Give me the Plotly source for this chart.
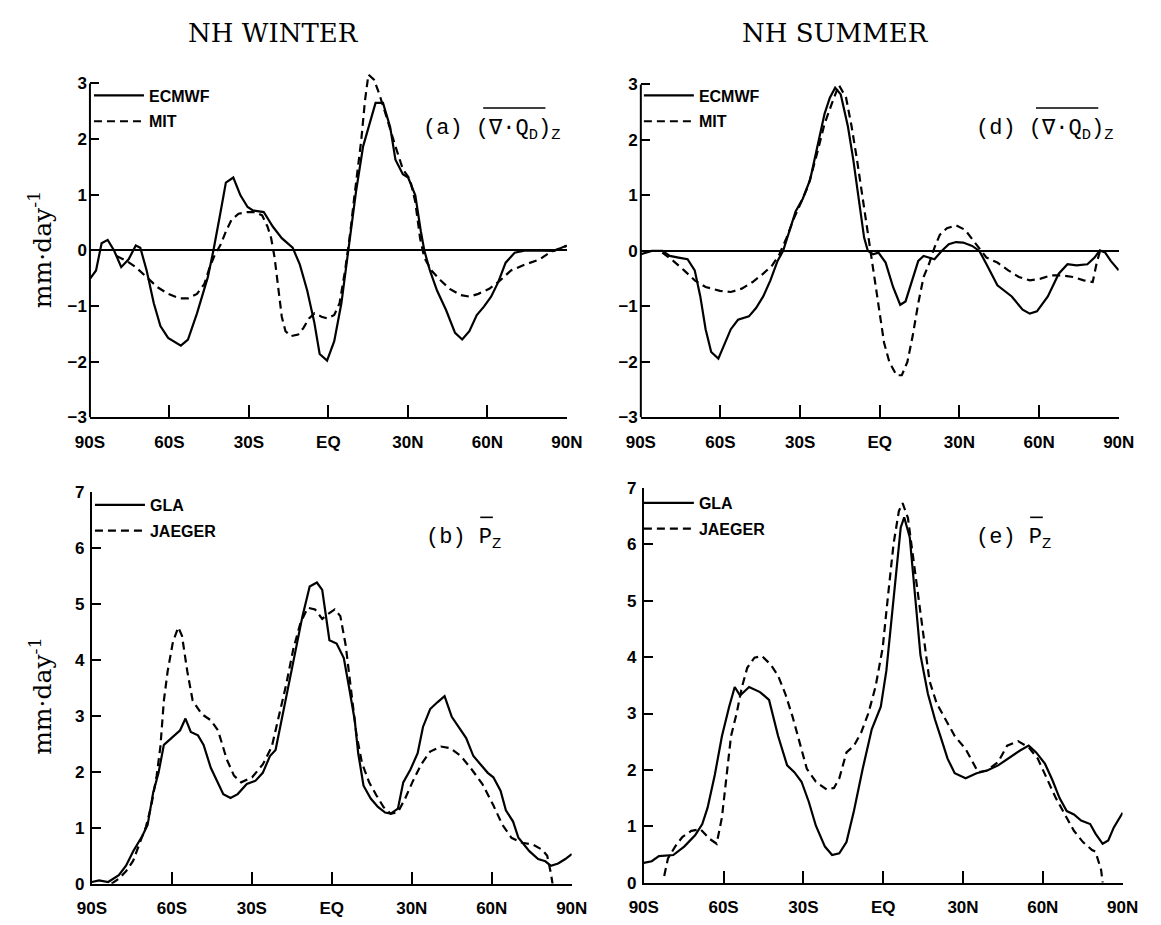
import plotly.graph_objects as go

# ---- Panel (a): NH winter, zonal mean moisture-flux divergence ----
lat_a_ecmwf = [-90, -87.7, -85.6, -83.3, -80.9, -78.2, -75.4, -72.7, -71, -68.6, -65.9, -63.4,
               -60.5, -55.7, -53, -49.6, -45.5, -43.4, -40.7, -38.7, -35.9, -33.2, -30.5, -28.5,
               -24.4, -21, -17.6, -13.5, -10.8, -8, -5.3, -3.3, -0.5, 2.2, 4.9, 7, 8.3, 10.4,
               13.1, 15.1, 17.8, 20.6, 23.3, 25.3, 28.1, 30.1, 32.8, 34.9, 36.2, 38.3, 41, 44.4,
               47.8, 50.5, 53.2, 56, 58.7, 61.4, 64.1, 66.9, 70.3, 74.4, 81.2, 85.2, 90]
val_a_ecmwf = [-0.51, -0.36, 0.13, 0.19, 0, -0.3, -0.16, 0.09, 0.05, -0.36, -0.95, -1.36,
               -1.57, -1.71, -1.6, -1.13, -0.48, 0, 0.69, 1.22, 1.31, 0.99, 0.78, 0.72,
               0.69, 0.43, 0.22, 0.05, -0.25, -0.72, -1.3, -1.86, -1.98, -1.63, -0.95, -0.19, 0.34, 1.05,
               1.87, 2.22, 2.65, 2.65, 2.22, 1.63, 1.37, 1.31, 0.99, 0.34, 0, -0.36, -0.72, -1.07,
               -1.48, -1.6, -1.45, -1.16, -1.01, -0.83, -0.57, -0.22, -0.04, 0, 0, -0.01, 0.09]

lat_a_mit = [-80, -76.1, -72.7, -68.6, -64.5, -60.5, -56.4, -53, -49.6, -46.8, -44.8, -42.8,
             -40.7, -38.7, -36.6, -33.9, -30.5, -27.8, -25, -23, -21.6, -20.3, -18.9, -17.6,
             -16.2, -14.2, -11.4, -9.4, -7.3, -5.3, -2.6, -0.5, 2.2, 4.2, 6.3, 8.3, 9.7, 11,
             12.4, 13.8, 15.1, 17.2, 19.2, 21.2, 23.3, 25.3, 28.1, 30.8, 32.8, 34.6, 36.2,
             38.9, 42.4, 45.8, 49.8, 53.2, 56.6, 60.7, 64.8, 68.9, 74.4, 79.8, 82.5, 85.2, 90]
val_a_mit = [-0.1, -0.19, -0.3, -0.48, -0.66, -0.78, -0.86, -0.86, -0.78, -0.6, -0.3, -0.07,
             0.1, 0.34, 0.55, 0.66, 0.69, 0.69, 0.63, 0.43, 0.22, -0.13, -0.72, -1.19,
             -1.45, -1.54, -1.51, -1.39, -1.22, -1.13, -1.19, -1.22, -1.16, -0.95, -0.36, 0.34, 0.93, 1.46,
             1.98, 2.69, 3.16, 3.07, 2.81, 2.51, 2.16, 1.87, 1.46, 1.28, 0.87, 0.22, -0.13,
             -0.36, -0.54, -0.69, -0.8, -0.83, -0.78, -0.69, -0.54, -0.36, -0.25, -0.16, -0.07, 0, 0.08]

# ---- Panel (d): NH summer, zonal mean moisture-flux divergence ----
lat_d_ecmwf = [-90, -85.9, -81.9, -79.1, -75.8, -72.4, -69.7, -67.6, -65.6, -63.5, -60.8, -58.8,
               -56.1, -53.4, -49.3, -46.6, -43.9, -41.2, -38.5, -36.4, -34.4, -31.7, -29, -26.2,
               -23.5, -20.8, -18.8, -16.8, -14.7, -12, -10, -7.9, -5.9, -4.5, -2.5, -0.5, 2.2, 5,
               7.7, 9.7, 11.7, 14.5, 16.5, 18.5, 20.6, 23.3, 26, 28.7, 31.4, 34.8, 37.5, 40.2,
               44.3, 49.7, 53.8, 56.5, 59.2, 63.3, 67.4, 70.7, 74.1, 78.2, 80.9, 82.9, 84.9, 87, 90]
val_d_ecmwf = [-0.06, 0, 0, -0.09, -0.12, -0.15, -0.35, -0.82, -1.41, -1.82, -1.94, -1.71,
               -1.41, -1.24, -1.18, -1.03, -0.82, -0.53, -0.18, 0, 0.29, 0.71, 0.94, 1.29,
               1.88, 2.47, 2.76, 2.94, 2.82, 2.24, 1.65, 0.94, 0.24, 0, -0.06, -0.03, -0.21, -0.65,
               -0.97, -0.91, -0.59, -0.18, -0.09, -0.12, -0.15, 0, 0.12, 0.16, 0.15, 0.09, 0, -0.24,
               -0.62, -0.82, -1.06, -1.13, -1.09, -0.82, -0.41, -0.24, -0.26, -0.24, -0.12, 0.01, -0.03, -0.18, -0.35]

lat_d_mit = [-81.9, -77.8, -73.7, -69.7, -65.6, -60.2, -56.1, -52, -47.9, -43.9, -40.5, -37.8,
             -35.1, -32.3, -29.6, -26.9, -24.2, -20.8, -18.1, -15.4, -12.7, -10.6, -8.6, -6.6,
             -4.5, -2.5, -0.5, 1.6, 3.6, 6.3, 8.3, 10.4, 12.4, 14.5, 16.5, 18.5, 20.6, 22.6,
             25.3, 28.7, 32.1, 34.8, 37.5, 40.2, 44.3, 48.4, 52.4, 56.5, 60.6, 64.6, 68.7,
             72.8, 76.8, 80.2, 81.6, 83]
val_d_mit = [-0.03, -0.18, -0.35, -0.53, -0.65, -0.72, -0.74, -0.68, -0.56, -0.41, -0.26, -0.06,
             0.24, 0.59, 0.88, 1.18, 1.65, 2.29, 2.65, 2.99, 2.76, 2.24, 1.65, 1.0,
             0.24, -0.35, -1.06, -1.65, -2.0, -2.24, -2.24, -2.0, -1.53, -0.94, -0.47, -0.24, 0.06, 0.29,
             0.41, 0.46, 0.38, 0.21, 0.06, -0.12, -0.21, -0.35, -0.47, -0.53, -0.5, -0.44, -0.44,
             -0.47, -0.53, -0.56, -0.24, 0.01]

# ---- Panel (b): NH winter, zonal mean precipitation ----
lat_b_gla = [-90, -87.3, -83.9, -79.9, -77.2, -74.5, -71.1, -69.1, -67, -65, -63, -59.6, -56.9,
             -54.9, -52.9, -50.2, -48.1, -45.4, -42.7, -40.7, -38, -35.3, -31.9, -28.6, -25.9,
             -23.2, -21.1, -19.1, -16.4, -13.7, -11, -8.3, -5.6, -3.6, -2.2, -0.9, 1.8, 4.5,
             6.5, 8.6, 9.9, 11.9, 14.6, 17.3, 20, 22.1, 24.8, 26.8, 29.5, 32.2, 34.2, 36.9,
             39.6, 42.3, 45, 47.7, 50.4, 53.1, 55.8, 58.5, 60.6, 63.3, 65.3, 68, 70, 74.1,
             77.4, 80.1, 82.2, 84.9, 87.6, 90]
val_b_gla = [0.03, 0.06, 0.03, 0.15, 0.32, 0.58, 0.85, 1.05, 1.63, 1.98, 2.48, 2.63, 2.74,
             2.95, 2.71, 2.65, 2.48, 2.07, 1.81, 1.6, 1.53, 1.6, 1.78, 1.84, 1.98,
             2.28, 2.39, 2.86, 3.5, 4.14, 4.78, 5.31, 5.38, 5.25, 4.78, 4.35, 4.29, 4.03,
             3.5, 2.92, 2.33, 1.75, 1.52, 1.37, 1.27, 1.25, 1.34, 1.81, 2.04, 2.33, 2.8, 3.12,
             3.24, 3.35, 2.98, 2.8, 2.6, 2.28, 2.13, 1.98, 1.9, 1.66, 1.31, 1.11, 0.82, 0.58,
             0.44, 0.4, 0.32, 0.36, 0.44, 0.53]

lat_b_jaeger = [-82.6, -79.9, -77.2, -74.5, -71.8, -69.7, -67.7, -65.7, -64.3, -63, -61.6, -59.6,
                -57.6, -56.2, -54.2, -52.2, -48.8, -45.4, -42.7, -39.4, -36.7, -34, -29.9, -25.9,
                -22.5, -19.8, -17.1, -14.4, -11.7, -9, -6.3, -3.6, -1.6, 1.1, 3.2, 5.2, 7.2,
                9.2, 11.3, 14, 16.7, 19.4, 22.1, 24.8, 27.5, 30.2, 33.5, 36.9, 40.9, 44.4,
                48.4, 52.5, 56.5, 60.6, 64, 67.4, 71.4, 75.4, 78.8, 80.8, 82.2, 82.8]
val_b_jaeger = [0.0, 0.09, 0.22, 0.41, 0.76, 1.02, 1.4, 1.93, 2.45, 3.27, 3.79, 4.32,
                4.58, 4.43, 3.79, 3.27, 3.03, 2.92, 2.74, 2.22, 1.93, 1.81, 1.9, 2.13,
                2.45, 2.98, 3.56, 4.2, 4.67, 4.93, 4.9, 4.73, 4.81, 4.9, 4.78, 4.26, 3.5,
                2.68, 2.16, 1.81, 1.58, 1.37, 1.25, 1.28, 1.52, 1.81, 2.13, 2.36, 2.45, 2.42,
                2.28, 2.04, 1.78, 1.4, 1.05, 0.82, 0.73, 0.7, 0.61, 0.5, 0.18, 0.0]

# ---- Panel (e): NH summer, zonal mean precipitation ----
lat_e_gla = [-90, -87, -84.3, -78.9, -74.8, -70.7, -68, -66, -63.3, -60.6, -57.9, -55.8, -53.8,
             -50.4, -46.3, -42.9, -39.5, -36.1, -33.4, -30.7, -28, -25.3, -21.9, -19.2, -16.5,
             -13.8, -11, -7.7, -4.3, -0.9, 1.2, 3.9, 6.6, 7.9, 10, 12, 14, 16.8, 19.5, 21.5,
             24.2, 26.9, 31, 35.1, 39.1, 43.2, 47.3, 51.3, 54.7, 57.5, 60.8, 63.6, 66.3, 69,
             71.7, 74.4, 77.8, 79.8, 82.5, 84.6, 86.7, 90]
val_e_gla = [0.35, 0.38, 0.47, 0.49, 0.64, 0.84, 1.04, 1.33, 1.91, 2.6, 3.12, 3.47, 3.32,
             3.47, 3.38, 3.24, 2.6, 2.08, 1.96, 1.79, 1.44, 1.01, 0.64, 0.49, 0.52,
             0.72, 1.27, 2.02, 2.72, 3.12, 3.76, 5.08, 6.3, 6.48, 6.12, 5.08, 4.04, 3.35, 2.89, 2.6,
             2.2, 1.94, 1.85, 1.94, 1.99, 2.08, 2.22, 2.34, 2.43, 2.31, 2.11, 1.82, 1.5, 1.27,
             1.21, 1.1, 1.04, 0.87, 0.69, 0.75, 0.98, 1.24]

lat_e_jaeger = [-82.3, -80.9, -78.2, -75.5, -72.1, -68.7, -65.3, -62.6, -60.6, -58.5, -57.2, -55.1,
                -53.1, -51.1, -48.4, -45.6, -42.3, -39.5, -36.8, -34.1, -31.4, -28.7, -25.3, -21.2,
                -18.5, -16.5, -13.8, -11, -8.3, -5.6, -2.9, -0.2, 1.8, 3.9, 5.9, 7.3, 9.3, 11.3,
                13.4, 15.4, 17.4, 20.1, 23.5, 26.9, 31, 33.7, 35.7, 39.1, 43.2, 46.6, 50.7,
                54.7, 58.1, 61.5, 64.9, 68.3, 71.7, 75.1, 78.5, 79.8, 81.9, 82.5]
val_e_jaeger = [0.12, 0.43, 0.64, 0.81, 0.92, 0.95, 0.78, 0.69, 1.16, 2.02, 2.6, 3.0,
                3.47, 3.81, 3.99, 4.02, 3.87, 3.67, 3.35, 2.95, 2.48, 2.02, 1.79, 1.65,
                1.68, 1.85, 2.31, 2.43, 2.66, 3.0, 3.47, 4.16, 5.08, 6.01, 6.59, 6.73, 6.47, 5.78,
                4.97, 4.27, 3.58, 3.18, 2.89, 2.6, 2.37, 2.14, 1.96, 1.99, 2.14, 2.43, 2.51,
                2.4, 2.2, 1.85, 1.5, 1.21, 0.92, 0.72, 0.58, 0.55, 0.23, 0.0]

lat_ticks = [-90, -60, -30, 0, 30, 60, 90]
lat_labels = ["90S", "60S", "30S", "EQ", "30N", "60N", "90N"]
div_ticks = [-3, -2, -1, 0, 1, 2, 3]
pr_ticks = [0, 1, 2, 3, 4, 5, 6, 7]

W, H = 1161, 925
INK = "black"
MONO = "Liberation Mono, Courier New, monospace"
SERIF = "DejaVu Serif, serif"
SANS = "Liberation Sans, Arial, sans-serif"
SOLID = dict(color=INK, width=2.2)
DASHED = dict(color=INK, width=2.2, dash="8px,5px")


def px(v):
    return v / W


def py(v):
    return 1 - v / H


fig = go.Figure()

panels = [
    # (axis id, legend id, solid name, solid lat, solid val, dashed name, dashed lat, dashed val)
    ("1", "legend", "ECMWF", lat_a_ecmwf, val_a_ecmwf, "MIT", lat_a_mit, val_a_mit),
    ("2", "legend2", "ECMWF", lat_d_ecmwf, val_d_ecmwf, "MIT", lat_d_mit, val_d_mit),
    ("3", "legend3", "GLA", lat_b_gla, val_b_gla, "JAEGER", lat_b_jaeger, val_b_jaeger),
    ("4", "legend4", "GLA", lat_e_gla, val_e_gla, "JAEGER", lat_e_jaeger, val_e_jaeger),
]

for ax, leg, n1, x1, y1, n2, x2, y2 in panels:
    suffix = "" if ax == "1" else ax
    fig.add_trace(go.Scatter(x=x1, y=y1, mode="lines", name=n1, line=SOLID,
                             xaxis="x" + suffix, yaxis="y" + suffix,
                             legend=leg, legendgroup=leg + "a"))
    fig.add_trace(go.Scatter(x=x2, y=y2, mode="lines", name=n2, line=DASHED,
                             xaxis="x" + suffix, yaxis="y" + suffix,
                             legend=leg, legendgroup=leg + "b"))

tick_font = dict(family=SANS, size=17, color=INK, weight="bold")

xcommon = dict(range=[-90, 90], tickvals=lat_ticks, ticktext=lat_labels,
               ticks="inside", ticklen=12, tickwidth=2, tickcolor=INK,
               showline=True, linecolor=INK, linewidth=2, showgrid=False,
               zeroline=False, tickfont=tick_font, ticklabelstandoff=8)
ycommon = dict(ticks="inside", ticklen=9, tickwidth=2, tickcolor=INK,
               showgrid=False, tickfont=tick_font, ticklabelstandoff=2)

# panel frames in pixels
x_dom = {
    "1": [px(77), px(567)],
    "2": [px(643), px(1134)],
    "3": [px(79), px(572)],
    "4": [px(646), px(1138)],
}
y_dom = {
    "1": [py(417), py(417 - 6.25 * 56.83)],
    "2": [py(417), py(417 - 6.25 * 56.67)],
    "3": [py(893), py(493)],
    "4": [py(892), py(489)],
}

layout_axes = {}
for ax in ["1", "2", "3", "4"]:
    s = "" if ax == "1" else ax
    layout_axes["xaxis" + s] = dict(xcommon, domain=x_dom[ax], anchor="y" + s)
    if ax in ("1", "2"):
        layout_axes["yaxis" + s] = dict(ycommon, domain=y_dom[ax], anchor="x" + s,
                                        range=[-3, 3.25], tickvals=div_ticks,
                                        showline=False, zeroline=True,
                                        zerolinecolor=INK, zerolinewidth=2)
    else:
        layout_axes["yaxis" + s] = dict(ycommon, domain=y_dom[ax], anchor="x" + s,
                                        range=[0, 7], tickvals=pr_ticks,
                                        showline=True, linecolor=INK, linewidth=2,
                                        zeroline=False)

legend_font = dict(family=SANS, size=16, color=INK, weight="bold")


def legend_at(x, y):
    return dict(x=px(x), y=py(y), xanchor="left", yanchor="top",
                bgcolor="rgba(0,0,0,0)", font=legend_font, itemwidth=50,
                tracegroupgap=2, traceorder="grouped", borderwidth=0)


fig.update_layout(
    width=W, height=H,
    margin=dict(l=0, r=0, t=0, b=0),
    paper_bgcolor="white", plot_bgcolor="white",
    showlegend=True,
    legend=legend_at(76, 71),
    legend2=legend_at(641, 71),
    legend3=legend_at(77, 489),
    legend4=legend_at(641, 487),
    **layout_axes,
)

shapes = []
# left axis lines of the divergence panels stop at +3
for s in ["", "2"]:
    shapes.append(dict(type="line", xref="x" + s + " domain", yref="y" + s,
                       x0=0, x1=0, y0=-3, y1=3, line=dict(color=INK, width=2)))

label_font = dict(family=MONO, size=22, color=INK)
ytitle_font = dict(family=SERIF, size=25, color=INK)
title_font = dict(family=SERIF, size=26, color=INK)
annos = [
    dict(x=px(266), y=py(25), text="NH WINTER", font=title_font),
    dict(x=px(843), y=py(25), text="NH SUMMER", font=title_font),
    dict(x=px(27), y=py(246), text="mm·day<sup>-1</sup>", textangle=-90, font=ytitle_font),
    dict(x=px(27), y=py(702), text="mm·day<sup>-1</sup>", textangle=-90, font=ytitle_font),
    dict(x=px(417), y=py(124), xanchor="left",
         text="(a) (∇·Q<sub>D</sub>)<sub>Z</sub>", font=label_font),
    dict(x=px(985), y=py(124), xanchor="left",
         text="(d) (∇·Q<sub>D</sub>)<sub>Z</sub>", font=label_font),
    dict(x=px(420), y=py(541), xanchor="left",
         text="(b) P<sub>Z</sub>", font=label_font),
    dict(x=px(985), y=py(541), xanchor="left",
         text="(e) P<sub>Z</sub>", font=label_font),
]
for a in annos:
    a.setdefault("xref", "paper")
    a.setdefault("yref", "paper")
    a.setdefault("showarrow", False)
    a.setdefault("xanchor", "center")
    a.setdefault("yanchor", "middle")

# overbars of the panel labels
bars = [(481, 545, 101), (1049, 1113, 101), (478, 491, 519), (1043, 1056, 519)]
for x0, x1, yb in bars:
    shapes.append(dict(type="line", xref="paper", yref="paper",
                       x0=px(x0), x1=px(x1), y0=py(yb), y1=py(yb),
                       line=dict(color=INK, width=1.6)))

fig.update_layout(annotations=annos, shapes=shapes)

fig.write_html("out.html")
